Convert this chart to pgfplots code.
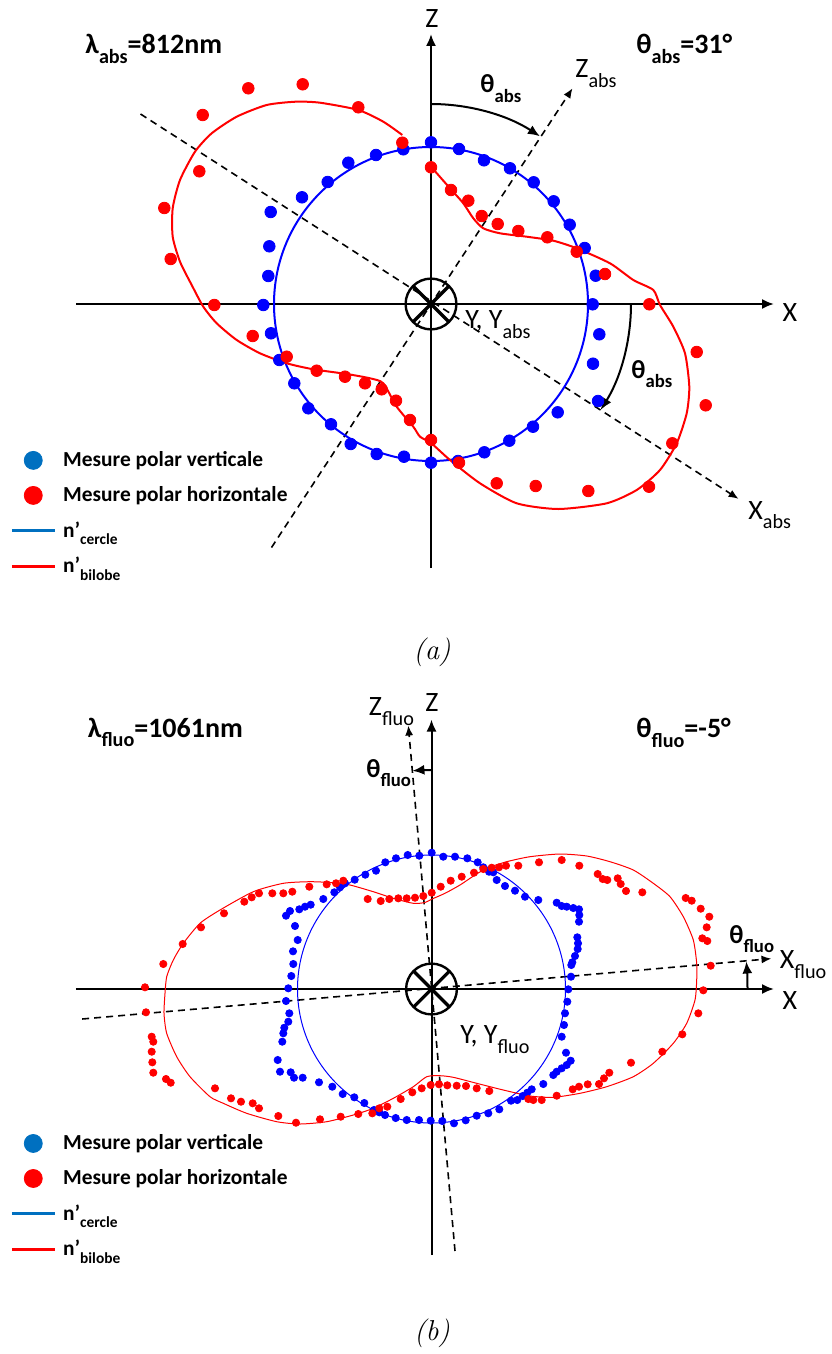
\documentclass[border=0pt]{standalone}
\usepackage{fontspec}
\setmainfont{Carlito}
\usepackage{graphicx}
\usepackage{pgfplots}
\pgfplotsset{compat=1.18}
\usetikzlibrary{arrows.meta}
\definecolor{legblue}{RGB}{0,112,192}
\newcommand{\sub}[1]{\raisebox{-0.35em}{\scalebox{0.72}{#1}}}
\newcommand{\fs}[1]{\fontsize{#1}{#1}\selectfont}
\pgfplotsset{
 panel/.style={x=0.5pt,y=0.5pt,hide axis,clip=false,anchor=north west,enlargelimits=false,
   legend image code/.code={\draw[mark repeat=2,mark phase=2,##1] plot coordinates {(0pt,0pt) (10.75pt,0pt) (21.5pt,0pt)};},
   legend cell align=left,
   legend style={draw=none,fill=none,anchor=north west,inner xsep=0pt,inner ysep=0pt,row sep=4.5pt,font=\bfseries\fs{10.7},
     /tikz/every odd column/.append style={column sep=1.5pt}},
 },
}
\tikzset{
 axline/.style={line width=1pt,-{Latex[length=6pt,width=5pt]}},
 dline/.style={line width=0.8pt,dash pattern=on 3.5pt off 2.5pt,-{Latex[length=5pt,width=4pt]}},
 lbl/.style={anchor=base west,inner sep=0pt},
}
\begin{document}
\begin{tikzpicture}
\useasboundingbox (0pt,0pt) rectangle (415.5pt,-677pt);
% ---------------- panel (a)
\begin{axis}[panel,at={(0pt,0pt)},xmin=-431,xmax=400,ymin=-376,ymax=304,
  legend style={at={(0.012,0.3427)}}]
\addlegendimage{only marks,mark=*,mark size=4.5pt,color=legblue}
\addlegendentry{Mesure polar verticale}
\addlegendimage{only marks,mark=*,mark size=4.5pt,color=red}
\addlegendentry{Mesure polar horizontale}
\addlegendimage{line width=1.4pt,color=legblue}
\addlegendentry{n’\sub{cercle}}
\addlegendimage{line width=1.4pt,color=red}
\addlegendentry{n’\sub{bilobe}}
% axes
\draw[axline] (-355,0) -- (343,0);
\draw[axline] (0,-264) -- (0,270);
\draw[dline] (-159.5,-243.5) -- (141.6,215.8);
\draw[dline] (-290.5,190) -- (307.6,-194.9);
% fitted curves
\draw[blue,line width=1pt] (0,0) circle[radius=78.5pt];
\addplot[red,line width=1pt,smooth,tension=0.4,forget plot] coordinates {
(0,137.3) (19,115.7) (32.3,100.7) (42.3,85.7) (52.3,75.7) (69,70.7) (95.7,67.3) (122.3,63.3) (145.7,55.7) (179,40.7) (202.3,24) (222.3,14) (229,-1) (242.3,-22.7) (254,-49.3) (258.3,-82.7) (255.7,-109.3) (245.7,-139.3) (229,-166) (205.7,-186) (175.7,-199.3) (127.3,-205) (85.7,-199.3) (49,-179.3) (19,-156) (0,-139) (-11,-132.7) (-17.7,-122.7) (-34.3,-102.7) (-47.7,-79.3) (-61,-74.3) (-84.3,-70) (-117.7,-65.3) (-144.3,-59.3) (-171,-49.3) (-194.3,-36) (-214.3,-19.3) (-227.7,-2.7) (-239.3,19) (-251,42.3) (-258.3,67.3) (-258.3,95.7) (-251,124) (-236,152.3) (-219.3,170.7) (-194.3,187.3) (-164.3,199) (-135.3,202.3) (-111,201.3) (-72.7,194) (-47.7,182.3) (-28.7,169)};
% measurements
\addplot[only marks,mark=*,mark size=2.9pt,color=blue,forget plot] coordinates {
(0,161.7) (28,155) (53,143.7) (79,135.7) (102.7,121.7) (122.7,102.7) (138.7,79.3) (153.7,56) (164.7,28.3) (161.7,-0.3) (168.3,-30.3) (162,-59.7) (167,-97) (126.7,-108.3) (102,-122.7) (78.3,-136.7) (53.3,-148.3) (27,-157) (0,-158.7) (-27,-152.7) (-54.3,-150) (-80.3,-140) (-100,-120.3) (-122.7,-104.3) (-136.7,-79.3) (-151.7,-56) (-160,-29.3) (-167.7,-1) (-162.7,28) (-161.7,57.7) (-160.3,92) (-129,106.7) (-103.3,122) (-82.7,141.3) (-55,149) (-27.7,154.7)};
\addplot[only marks,mark=*,mark size=2.9pt,color=red,forget plot] coordinates {
(0,136.7) (20,114) (37.3,103.3) (50.7,88) (66.7,80) (87.3,73) (116.3,66.7) (145.7,52.3) (174,30) (218.3,-0.3) (265.7,-48) (274.7,-101.3) (241.3,-139.3) (218,-182.7) (157.3,-187) (104.7,-182) (65.7,-179.3) (28,-158.7) (0,-136) (-21,-116) (-35,-96.7) (-49.3,-85.3) (-66,-79.3) (-86,-72.7) (-114.3,-66.7) (-144.3,-52.7) (-178.3,-32) (-216.7,-1) (-260.3,45) (-266.7,96) (-231.7,132.7) (-228.3,189) (-182.7,215.7) (-128.3,219.7) (-72.7,196.7) (-28.7,161.3)};
% cross symbol
\draw[line width=1.2pt] (0,0) circle[radius=12.7pt];
\draw[line width=1.6pt] (0,0) ++(45:12.7pt) -- ++(225:25.4pt);
\draw[line width=1.6pt] (0,0) ++(135:12.7pt) -- ++(315:25.4pt);
% angle arcs
\draw[line width=1pt,-{Latex[length=6pt,width=5pt]}] (0,200) arc[start angle=90,end angle=57,radius=100pt];
\draw[line width=1pt,-{Latex[length=6pt,width=5pt]}] (200,0) arc[start angle=0,end angle=-32,radius=100pt];
% labels
\node[font=\fs{14}] at (1,285) {Z};
\node[font=\fs{14}] at (359,-9) {X};
\node[lbl,font=\fs{14}] at (144,226) {Z\sub{abs}};
\node[lbl,font=\fs{14}] at (317,-215) {X\sub{abs}};
\node[lbl,font=\fs{14}] at (34,-24.3) {Y, Y\sub{abs}};
\node[lbl,font=\bfseries\fs{14}] at (-346,250) {λ\sub{abs}=812nm};
\node[lbl,font=\bfseries\fs{14}] at (205,250) {θ\sub{abs}=31°};
\node[lbl,font=\bfseries\fs{13}] at (49,211) {θ\sub{abs}};
\node[lbl,font=\bfseries\fs{13}] at (200,-74) {θ\sub{abs}};
\node[font=\fontfamily{lmr}\fs{14.4}\itshape] at (1,-348) {(a)};
\end{axis}
% ---------------- panel (b)
\begin{axis}[panel,at={(0pt,-340pt)},xmin=-431.5,xmax=399.5,ymin=-365,ymax=309,
  legend style={at={(0.012,0.3323)}}]
\addlegendimage{only marks,mark=*,mark size=4.5pt,color=legblue}
\addlegendentry{Mesure polar verticale}
\addlegendimage{only marks,mark=*,mark size=4.5pt,color=red}
\addlegendentry{Mesure polar horizontale}
\addlegendimage{line width=1.4pt,color=legblue}
\addlegendentry{n’\sub{cercle}}
\addlegendimage{line width=1.4pt,color=red}
\addlegendentry{n’\sub{bilobe}}
\draw[axline] (-355.7,0) -- (342.5,0);
\draw[axline] (0,-266) -- (0,269.5);
\draw[dline] (23.5,-262) -- (-23.2,263.5);
\draw[dline] (-349.3,-30) -- (340,30.4);
\draw[blue,line width=0.5pt] (0,0) circle[radius=67pt];
\addplot[red,line width=0.5pt,smooth,tension=0.4,forget plot] coordinates {
(-266.5,-4.3) (-264.8,12.3) (-258.2,29) (-248.2,45.7) (-231.5,65.7) (-211.5,79) (-178.2,97.3) (-148.2,105.7) (-121.5,107.3) (-98.2,106.3) (-81.5,104) (-58.2,97.3) (-38.2,90.7) (-18.2,85.7) (-6.5,86.5) (0.5,90) (13.5,95.7) (28.5,104) (43.5,114) (55.2,120.7) (75.2,127.3) (98.5,132.3) (128.5,135) (155.2,133) (178.5,127.3) (201.8,119) (221.8,105.7) (238.5,92.3) (251.8,72.3) (261.8,49) (265.2,25.7) (265.2,9) (263.5,-11) (255.2,-34.3) (241.8,-54.3) (221.8,-74.3) (201.8,-87.7) (175.2,-97.7) (148.5,-104.3) (121.8,-108.3) (98.5,-107) (71.8,-101) (45.2,-94.3) (21.8,-88.3) (8.5,-86.7) (-4.8,-87.7) (-18.2,-97.7) (-38.2,-109.3) (-58.2,-119.3) (-78.2,-126) (-104.8,-132.7) (-131.5,-135) (-154.8,-132.7) (-184.8,-124.3) (-208.2,-114.3) (-221.5,-107.7) (-241.5,-87.7) (-254.8,-67.7) (-264.8,-44.3) (-267.5,-24.3) (-266.5,-4.3)};
\addplot[only marks,mark=*,mark size=1.8pt,color=blue,forget plot] coordinates {
(0.2,136.3) (11.8,132.3) (23.5,132.3) (35.8,130.7) (46.2,126.7) (51.8,121.7) (57.5,117.3) (61.8,116.7) (65.2,109) (73.5,103) (83.5,98.3) (93.5,92.3) (106.8,89) (125.2,86.3) (130.2,83) (135.2,82.3) (141.8,81) (147.5,79.7) (147.8,74) (147.5,67.3) (145.8,51.7) (146.5,45.7) (146.2,40) (143.5,33) (140.8,26.7) (139.8,24) (139.5,12.3) (136.8,-0.3)
(135.8,-12.7) (133.5,-24.3) (132.5,-36) (130.2,-47.7) (134.5,-63.7) (139.2,-71.7) (135.2,-76) (130.2,-79.3) (125.2,-82.7) (121.8,-86) (111.8,-95) (100.2,-100.3) (95.8,-103.7) (91.2,-107) (85.8,-111) (79.5,-111.7) (67.8,-120.3) (56.8,-124.3) (45.2,-126.7) (34.2,-131.3) (22.5,-134.3) (10.8,-132) (-0.8,-131.7)
(-12.5,-131) (-24.8,-131) (-35.8,-129) (-46.5,-126) (-52.2,-123.3) (-57.5,-121) (-67.2,-114) (-77.2,-108.3) (-88.8,-105) (-99.2,-97.7) (-112.5,-93.3) (-128.8,-88.7) (-137.5,-88.7) (-140.8,-83.3) (-151.5,-82.7) (-153.8,-71) (-149.2,-52.7) (-148.2,-44.3) (-147.2,-38.7) (-143.2,-32.7) (-142.2,-24.3) (-145.5,-12) (-143.2,0.7)
(-140.2,13) (-138.2,25) (-138.5,37.7) (-133.8,49) (-136.5,63) (-145.5,73.3) (-141.5,78) (-132.2,79.7) (-126.5,82.3) (-120.8,84.3) (-108.2,90) (-97.2,96.7) (-91.5,101.7) (-86.5,105.7) (-76.8,109.3) (-66.2,114.3) (-55.5,118.3) (-46.2,126.7) (-35.5,130.7) (-23.8,134) (-12.2,133.3)};
\addplot[only marks,mark=*,mark size=1.8pt,color=red,forget plot] coordinates {
(-286.5,1.7) (-268.2,25) (-248.8,45) (-230.5,61.7) (-207.5,75.7) (-187.2,87.3) (-179.8,91.7) (-172.5,95.7) (-159.2,95.7) (-148.2,95.7) (-139.2,97.3) (-122.2,102.3) (-104.8,104.7) (-95.5,105.7) (-88.2,108.3) (-63.8,90) (-50.8,88) (-42.2,90) (-33.2,90.7) (-24.8,90.7) (-16.5,91.3) (-8.2,93) (0.2,96.3)
(9.2,102.3) (19.2,108.3) (30.2,112.3) (42.5,116.3) (51.8,120) (60.2,121.3) (67.5,121.7) (74.5,123.3) (86.8,123.3) (107.5,126.7) (130.2,129) (147.8,123.3) (166.2,115) (171.2,110) (175.8,109) (186.2,110.7) (189.2,105) (194.5,98) (210.8,96.7) (254.2,91) (260.2,88.3) (269.2,80.3) (277.8,72.3) (275.2,61.7) (270.8,50.7) (275.8,48) (279.2,23.3) (271.8,-1.3)
(266.8,-24.3) (250.8,-45.3) (230.8,-62.7) (199.5,-73.7) (177.8,-83.7) (172.5,-89.3) (167.5,-95) (156.2,-95.3) (147.5,-97.7) (141.2,-100.3) (125.2,-106.7) (110.2,-111) (101.8,-111) (96.8,-110) (57.8,-102) (45.2,-99.3) (34.5,-97) (25.2,-96.7) (15.8,-96.3) (7.5,-95.3) (-0.8,-96) (-9.8,-99.3)
(-19.2,-103.3) (-30.8,-110) (-44.2,-117.7) (-52.2,-119.3) (-59.2,-124.3) (-73.2,-125) (-90.8,-127.7) (-111.5,-130.3) (-135.5,-133.7) (-153.2,-127) (-172.5,-119.3) (-178.8,-114.3) (-190.5,-112.7) (-200.5,-109.3) (-216.5,-99.3) (-260.8,-93.7) (-265.5,-90) (-278.2,-83.7) (-279.2,-73.3) (-279.8,-62.7) (-278.2,-52.7) (-279.8,-47.7) (-285.5,-23.3)};
\draw[line width=1.2pt] (0,0) circle[radius=12.7pt];
\draw[line width=1.6pt] (0,0) ++(45:12.7pt) -- ++(225:25.4pt);
\draw[line width=1.6pt] (0,0) ++(135:12.7pt) -- ++(315:25.4pt);
\draw[line width=1pt,-{Latex[length=6pt,width=5pt]}] (0,219) arc[start angle=90,end angle=95,radius=109.5pt];
\draw[line width=1pt,-{Latex[length=6pt,width=5pt]}] (316,0) arc[start angle=0,end angle=5,radius=158pt];
\node[font=\fs{14}] at (0.5,286) {Z};
\node[font=\fs{14}] at (358.5,-12) {X};
\node[lbl,font=\fs{14}] at (-63,273.4) {Z\sub{fluo}};
\node[lbl,font=\fs{14}] at (348,20.5) {X\sub{fluo}};
\node[lbl,font=\fs{14}] at (28.5,-54.3) {Y, Y\sub{fluo}};
\node[lbl,font=\bfseries\fs{14}] at (-344,252) {λ\sub{fluo}=1061nm};
\node[lbl,font=\bfseries\fs{14}] at (204.5,251.7) {θ\sub{fluo}=-5°};
\node[lbl,font=\bfseries\fs{13}] at (-65.5,212) {θ\sub{fluo}};
\node[lbl,font=\bfseries\fs{13}] at (297.5,46) {θ\sub{fluo}};
\node[font=\fontfamily{lmr}\fs{14.4}\itshape] at (0.5,-344) {(b)};
\end{axis}
\end{tikzpicture}
\end{document}
